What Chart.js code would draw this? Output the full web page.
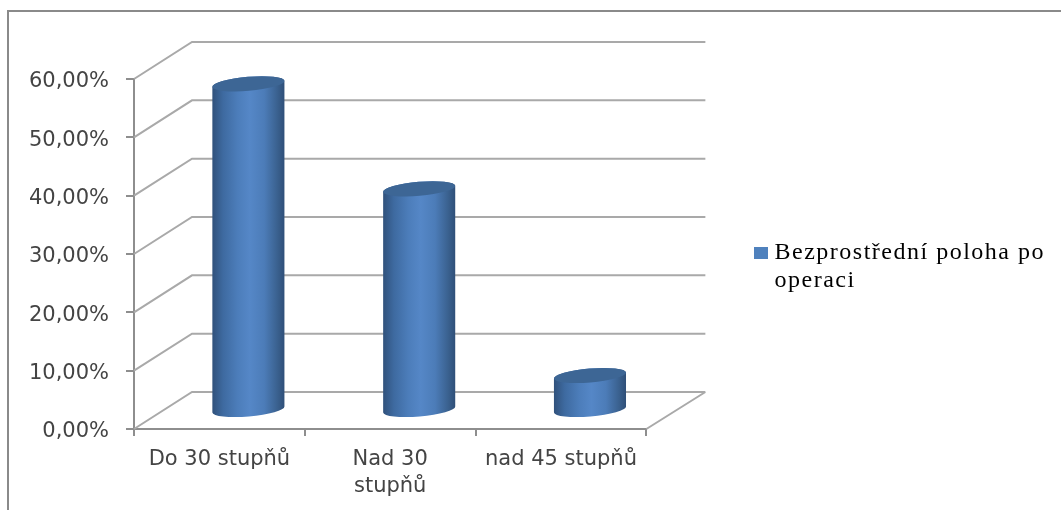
<!DOCTYPE html>
<html lang="cs">
<head>
<meta charset="utf-8">
<title>Bezprostřední poloha po operaci</title>
<script src="https://cdn.jsdelivr.net/npm/chart.js@4/dist/chart.umd.min.js"></script>
<style>
  html, body { margin: 0; padding: 0; background: #fff; }
  #wrap { width: 1061px; height: 510px; position: relative; }
</style>
</head>
<body>
<div id="wrap"><canvas id="chart" width="1061" height="510"></canvas></div>
<script>
// Chart data
const categories = ['Do 30 stupňů', ['Nad 30', 'stupňů'], 'nad 45 stupňů'];
const seriesName = ['Bezprostřední poloha po', 'operaci'];
const seriesValues = [56, 38, 6];
const axisMax = 60;
const axisStep = 10;

// Oblique projection of the chart box
const DEPTH_X = 58;
const DEPTH_Y = 37;
const BACK_EXTRA_X = 1;
const ELLIPSE_RY = 7;
const ELLIPSE_TILT = -0.085;
const PLOT_RIGHT = 644;

const GRID = '#a9a9a9';
const AXIS = '#8e8e8e';
const TEXT = '#444444';
const BLUE = '#4f81bd';

// Bar element drawn as an upright cylinder standing halfway into the box
class CylinderElement extends Chart.BarElement {
  draw(ctx) {
    const { x, y, base, width } = this.getProps(['x', 'y', 'base', 'width'], true);
    const cx = x + DEPTH_X / 2;
    const topY = y - DEPTH_Y / 2;
    const baseY = base - DEPTH_Y / 2;
    const rx = width / 2;
    const grad = ctx.createLinearGradient(cx - rx, 0, cx + rx, 0);
    grad.addColorStop(0, '#30517b');
    grad.addColorStop(0.15, '#3e6aa0');
    grad.addColorStop(0.35, '#4c7dba');
    grad.addColorStop(0.52, '#5587c7');
    grad.addColorStop(0.72, '#4c7cb8');
    grad.addColorStop(0.9, '#3a618f');
    grad.addColorStop(1, '#2f4f78');
    ctx.save();
    ctx.beginPath();
    ctx.ellipse(cx, baseY, rx, ELLIPSE_RY, ELLIPSE_TILT, 0, Math.PI);
    ctx.ellipse(cx, topY, rx, ELLIPSE_RY, ELLIPSE_TILT, Math.PI, Math.PI * 2);
    ctx.closePath();
    ctx.fillStyle = grad;
    ctx.fill();
    ctx.beginPath();
    ctx.ellipse(cx, topY, rx, ELLIPSE_RY, ELLIPSE_TILT, 0, Math.PI * 2);
    ctx.fillStyle = '#3d6695';
    ctx.fill();
    ctx.restore();
  }
}
CylinderElement.id = 'cylinderBar';
CylinderElement.defaults = Chart.BarElement.defaults;
CylinderElement.defaultRoutes = Chart.BarElement.defaultRoutes;

class CylinderController extends Chart.BarController {}
CylinderController.id = 'cylinder';
CylinderController.defaults = Object.assign({}, Chart.BarController.defaults, { dataElementType: 'cylinderBar' });
CylinderController.overrides = Chart.BarController.overrides;
Chart.register(CylinderElement, CylinderController);

// Outer frame (top and left edges only) and the receding gridlines of the box
const boxPlugin = {
  id: 'box3d',
  beforeDraw(chart) {
    const ctx = chart.ctx;
    ctx.save();
    ctx.strokeStyle = '#8a8a8a';
    ctx.lineWidth = 2;
    ctx.beginPath();
    ctx.moveTo(8, chart.height);
    ctx.lineTo(8, 11);
    ctx.lineTo(chart.width, 11);
    ctx.stroke();
    ctx.restore();
  },
  beforeDatasetsDraw(chart) {
    const { ctx, chartArea: a, scales: { y } } = chart;
    const backL = a.left + DEPTH_X;
    const backR = a.right + DEPTH_X + BACK_EXTRA_X;
    ctx.save();
    ctx.strokeStyle = GRID;
    ctx.lineWidth = 2;
    ctx.beginPath();
    y.ticks.forEach((t) => {
      const py = y.getPixelForValue(t.value);
      ctx.moveTo(a.left, py);
      ctx.lineTo(backL, py - DEPTH_Y);
      ctx.lineTo(backR, py - DEPTH_Y);
    });
    ctx.moveTo(a.right, a.bottom);
    ctx.lineTo(backR, a.bottom - DEPTH_Y);
    ctx.stroke();
    ctx.restore();
  },
  // The legend sits well clear of the box, so it is moved after the layout pass
  afterLayout(chart) {
    const l = chart.legend;
    if (!l) return;
    const h = l.height;
    l.left = 753.5;
    l.right = chart.width;
    l.top = 235;
    l.bottom = l.top + h + 12;
  }
};

const chart = new Chart(document.getElementById('chart'), {
  type: 'cylinder',
  data: {
    labels: categories,
    datasets: [{
      label: seriesName.join(' '),
      data: seriesValues,
      backgroundColor: BLUE,
      clip: false,
      categoryPercentage: 1,
      barPercentage: 0.4235
    }]
  },
  options: {
    responsive: false,
    animation: false,
    layout: { padding: { left: 0, top: 79, right: 0, bottom: 0 } },
    plugins: {
      tooltip: { enabled: false },
      title: { display: false },
      legend: {
        display: true,
        position: 'right',
        align: 'start',
        labels: {
          padding: 6,
          boxWidth: 3,
          boxHeight: 1,
          color: '#000',
          font: { family: '"Liberation Serif"', size: 24, lineHeight: 28 / 24 },
          generateLabels: () => [{
            text: seriesName,
            fillStyle: BLUE,
            strokeStyle: BLUE,
            lineWidth: 11,
            datasetIndex: 0
          }]
        }
      }
    },
    scales: {
      x: {
        type: 'category',
        afterFit(s) { s.height = 81; },
        border: { color: AXIS, width: 2 },
        grid: { offset: true, drawOnChartArea: false, drawTicks: true, tickLength: 7, color: AXIS, lineWidth: 2 },
        ticks: {
          color: TEXT,
          padding: 10,
          maxRotation: 0,
          autoSkip: false,
          font: { family: '"DejaVu Sans"', size: 21, lineHeight: 27 / 21 }
        }
      },
      y: {
        type: 'linear',
        min: 0,
        max: axisMax,
        afterFit(s) { s.width = 134; },
        border: { color: AXIS, width: 2 },
        grid: { drawOnChartArea: false, drawTicks: true, tickLength: 8, color: AXIS, lineWidth: 2 },
        ticks: {
          stepSize: axisStep,
          color: TEXT,
          padding: 17,
          labelOffset: 3,
          font: { family: '"DejaVu Sans"', size: 21 },
          callback: (v) => v.toFixed(2).replace('.', ',') + '%'
        }
      }
    }
  },
  plugins: [boxPlugin]
});

// Legend text runs wider than the face's natural setting
const drawLegend = chart.legend.draw;
chart.legend.draw = function (...args) {
  const ctx = this.ctx;
  ctx.save();
  ctx.letterSpacing = '1.5px';
  drawLegend.apply(this, args);
  ctx.restore();
};

// Reserve room on the right so the plot ends where the box front ends
for (let i = 0; i < 3; i++) {
  chart.options.layout.padding.right += chart.chartArea.right - PLOT_RIGHT;
  chart.update('none');
}
</script>
</body>
</html>
